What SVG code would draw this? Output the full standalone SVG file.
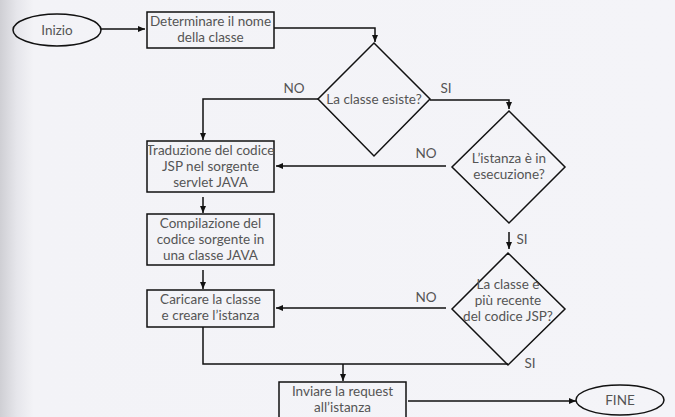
<svg xmlns="http://www.w3.org/2000/svg" width="675" height="417" viewBox="0 0 675 417">
<defs>
<linearGradient id="bg" x1="0" y1="0" x2="1" y2="0" gradientUnits="userSpaceOnUse" gradientTransform="scale(675 1)">
<stop offset="0" stop-color="#cfcfd4"/>
<stop offset="0.025" stop-color="#e6e6eb"/>
<stop offset="0.05" stop-color="#f3f3f7"/>
<stop offset="1" stop-color="#f4f4f8"/>
</linearGradient>
<marker id="ah" markerWidth="8" markerHeight="8" refX="7" refY="4" orient="auto" markerUnits="userSpaceOnUse">
<path d="M0,1 L7,4 L0,7 z" fill="#111"/>
</marker>
<style>
.sh{fill:none;stroke:#111;stroke-width:1.5}
.ln{fill:none;stroke:#111;stroke-width:1.5}
.t{font-family:Lato,"Liberation Sans",sans-serif;font-size:13.5px;fill:#555;text-anchor:middle}
</style>
</defs>
<rect width="675" height="417" fill="url(#bg)"/>
<g id="connectors">
<path class="ln" d="M101,29 H145" marker-end="url(#ah)"/>
<path class="ln" d="M274,28 H375 V42" marker-end="url(#ah)"/>
<path class="ln" d="M318,99 H203 V140" marker-end="url(#ah)"/>
<path class="ln" d="M430,100 H509 V109" marker-end="url(#ah)"/>
<path class="ln" d="M446,166 H276" marker-end="url(#ah)"/>
<path class="ln" d="M509,232 V249" marker-end="url(#ah)"/>
<path class="ln" d="M203,197 V213" marker-end="url(#ah)"/>
<path class="ln" d="M203,270 V289" marker-end="url(#ah)"/>
<path class="ln" d="M446,308 H276" marker-end="url(#ah)"/>
<path class="ln" d="M203,327 V364 H508"/>
<path class="ln" d="M343,364 V381" marker-end="url(#ah)"/>
<path class="ln" d="M408,401 H576" marker-end="url(#ah)"/>
<text class="t" x="294" y="93">NO</text>
<text class="t" x="446" y="93">SI</text>
<text class="t" x="426" y="158">NO</text>
<text class="t" x="522" y="244">SI</text>
<text class="t" x="426" y="302">NO</text>
<text class="t" x="530" y="368">SI</text>
</g>
<g id="inizio">
<ellipse class="sh" cx="57" cy="30" rx="44" ry="16"/>
<text class="t" x="57" y="35">Inizio</text>
</g>
<g id="determinare">
<rect class="sh" x="147" y="12" width="127" height="36"/>
<text class="t" x="210.5" y="26">Determinare il nome</text>
<text class="t" x="210.5" y="42">della classe</text>
</g>
<g id="esiste">
<polygon class="sh" points="374,43 430,99 374,156 318,99"/>
<text class="t" x="374" y="104">La classe esiste?</text>
</g>
<g id="esecuzione">
<polygon class="sh" points="509,111 565,167 509,223 452,167"/>
<text class="t" x="509" y="163">L’istanza è in</text>
<text class="t" x="509" y="179">esecuzione?</text>
</g>
<g id="traduzione">
<rect class="sh" x="147" y="141" width="127" height="51"/>
<text class="t" x="210.5" y="155">Traduzione del codice</text>
<text class="t" x="210.5" y="171">JSP nel sorgente</text>
<text class="t" x="210.5" y="187">servlet JAVA</text>
</g>
<g id="compilazione">
<rect class="sh" x="147" y="214" width="127" height="51"/>
<text class="t" x="210.5" y="228">Compilazione del</text>
<text class="t" x="210.5" y="244">codice sorgente in</text>
<text class="t" x="210.5" y="260">una classe JAVA</text>
</g>
<g id="caricare">
<rect class="sh" x="147" y="290" width="127" height="37"/>
<text class="t" x="210.5" y="304">Caricare la classe</text>
<text class="t" x="210.5" y="320">e creare l’istanza</text>
</g>
<g id="recente">
<polygon class="sh" points="508,253 565,309 508,365 452,309"/>
<text class="t" x="508" y="289">La classe è</text>
<text class="t" x="508" y="305">più recente</text>
<text class="t" x="508" y="321">del codice JSP?</text>
</g>
<g id="inviare">
<rect class="sh" x="279" y="382" width="127" height="40"/>
<text class="t" x="342.5" y="396">Inviare la request</text>
<text class="t" x="342.5" y="412">all’istanza</text>
</g>
<g id="fine">
<ellipse class="sh" cx="620" cy="400" rx="44" ry="15"/>
<text class="t" x="620" y="405">FINE</text>
</g>
</svg>
